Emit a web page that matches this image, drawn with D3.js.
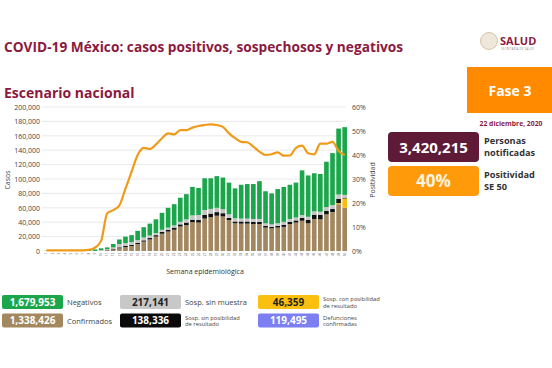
<!DOCTYPE html>
<html>
<head>
<meta charset="utf-8">
<script src="https://cdn.jsdelivr.net/npm/d3@7"></script>
<style>
  body { margin: 0; background: #fff; }
  text { font-family: "Open Sans", sans-serif; }
</style>
</head>
<body>
<svg id="chart" width="552" height="368"></svg>
<script>
// semanas epidemiológicas 1..50 (valores en miles de casos)
const semanas = d3.range(1, 51);
const confirmados = [0,0,0,0,0,0,0,0,0.01, 0.3,1.2,1.5,3.7,5.5,7,9.7,13,16,20,24,27,29.5,34,36,40,39.5,
  45,47,49,48,43,38.5,38,38,37.5,37.5,32.5,31.5,32.5,33.5,37.5,39.5,42,38.5,44.5,44,51,53.5,65,60];
const sospConPosibilidad = [0,0,0,0,0,0,0,0,0, 0,0,0,0,0,0,0,0,0,0,0,0,0,0,0,0,0,
  0,0,0,0,0,0,0,0,0,0,0,0,0,0,0,0,0,0,0,0,0,0.3,1.5,13];
const sospSinPosibilidad = [0,0,0,0,0,0,0,0,0, 0.3,0.5,1,1.4,1.5,1.5,1.5,1.8,2,2,2.5,2.5,3,3,3.5,3.5,3.5,
  5,5,5,4.5,3,2.5,3,3,3,3,2.5,2,2.5,3,3,3,4,5,6,6,5,4.5,6,1];
const sospSinMuestra = [0,0,0,0,0,0,0,0,0.1, 0.8,1,2.5,4.6,4,4,4,4,3.5,3,3,3,3,3.5,4.5,6,7,
  7,6.5,6,5.5,5,4.5,4,4,4,4,3.5,3.5,3.5,4,4,4,4,4,4.5,4.5,5,5.5,6,4];
const negativos = [0.3,0.8,1.2,1.3,1.3,1.3,1.2,1.4,2.1, 2.3,2.3,4.7,6.3,9,9.5,12.8,14.2,16.5,19,23.5,27.5,29.5,33.5,35,39.5,37.6,
  44,42.5,44,44,44,41.5,47,48,48.5,52.5,44.5,43,47.5,48.5,47.5,48.5,62,57.5,53,52.5,63,72.2,91.5,94];
const positividad = [0.3,0.3,0.3,0.3,0.3,0.3,0.3,0.5,1.4, 4.2,15.7,17,19,26,33,40,43,42.5,44.4,47,49,48.6,50.4,50.4,51.4,52.1,
  52.5,52.8,52.5,51.7,49,47,45.5,45.3,43.5,41.4,40,40.3,41.1,39.7,39.8,43,43.9,40.7,40.3,44.7,44.7,45.5,41.7,40];

const casosTicks = d3.range(0, 201, 20);
const positTicks = d3.range(0, 61, 10);

const series = [
  { key: "confirmados", values: confirmados, color: "#a3875e" },
  { key: "sospCon", values: sospConPosibilidad, color: "#f7bd16" },
  { key: "sospSin", values: sospSinPosibilidad, color: "#111111" },
  { key: "sinMuestra", values: sospSinMuestra, color: "#c6c6c6" },
  { key: "negativos", values: negativos, color: "#1ba64b" }
];

const leyenda = [
  { valor: "1,679,953", texto: ["Negativos"], color: "#1ba64b", fg: "#fff", col: 0, row: 0 },
  { valor: "1,338,426", texto: ["Confirmados"], color: "#a3875e", fg: "#fff", col: 0, row: 1 },
  { valor: "217,141", texto: ["Sosp. sin muestra"], color: "#c8c8c8", fg: "#222", col: 1, row: 0 },
  { valor: "138,336", texto: ["Sosp. sin posibilidad", "de resultado"], color: "#0a0a0a", fg: "#fff", col: 1, row: 1 },
  { valor: "46,359", texto: ["Sosp. con posibilidad", "de resultado"], color: "#fbbf10", fg: "#222", col: 2, row: 0 },
  { valor: "119,495", texto: ["Defunciones", "confirmadas"], color: "#7b7ff2", fg: "#fff", col: 2, row: 1 }
];

const svg = d3.select("#chart");
const maroon = "#8c1a3e";

// encabezado
svg.append("text").attr("x", 4).attr("y", 52)
  .attr("font-size", 13.7).attr("font-weight", 700).attr("fill", maroon)
  .text("COVID-19 México: casos positivos, sospechosos y negativos");

svg.append("text").attr("x", 4).attr("y", 98)
  .attr("font-size", 14).attr("font-weight", 700).attr("fill", maroon)
  .text("Escenario nacional");

// logo
svg.append("circle").attr("cx", 489).attr("cy", 41).attr("r", 8.5)
  .attr("fill", "#efe7da").attr("stroke", "#c9b99a").attr("stroke-width", 0.8);
svg.append("text").attr("x", 500).attr("y", 45)
  .attr("font-family", "DejaVu Serif").attr("font-size", 11).attr("font-weight", 700)
  .attr("fill", maroon).text("SALUD");
svg.append("text").attr("x", 501).attr("y", 50)
  .attr("font-size", 2.6).attr("fill", "#888").attr("letter-spacing", 0.3)
  .text("SECRETARÍA DE SALUD");

// Fase 3
svg.append("rect").attr("x", 467).attr("y", 67).attr("width", 85).attr("height", 46).attr("fill", "#ff8a00");
svg.append("text").attr("x", 510).attr("y", 96).attr("text-anchor", "middle")
  .attr("font-size", 14).attr("font-weight", 700).attr("fill", "#fff").text("Fase 3");
svg.append("text").attr("x", 511).attr("y", 126).attr("text-anchor", "middle")
  .attr("font-size", 6.8).attr("font-weight", 700).attr("fill", maroon).text("22 diciembre, 2020");

// cajas de resumen
const cajas = [
  { y: 132, valor: "3,420,215", color: "#5e1a37", fg: "#fff", lineas: ["Personas", "notificadas"] },
  { y: 166, valor: "40%", color: "#ff9a0a", fg: "#fff4e0", lineas: ["Positividad", "SE 50"] }
];
cajas.forEach(c => {
  svg.append("rect").attr("x", 388).attr("y", c.y).attr("width", 91).attr("height", 30)
    .attr("rx", 4).attr("fill", c.color);
  svg.append("text").attr("x", 433.5).attr("y", c.y + 20.5).attr("text-anchor", "middle")
    .attr("font-size", c.valor.length > 4 ? 15 : 17).attr("font-weight", 700).attr("fill", c.fg)
    .text(c.valor);
  c.lineas.forEach((l, i) => {
    svg.append("text").attr("x", 484).attr("y", c.y + 11.5 + i * 12)
      .attr("font-size", 9.2).attr("font-weight", 700).attr("fill", "#333").text(l);
  });
});

// gráfica
const x = d3.scaleBand().domain(semanas).range([44, 347]).paddingInner(0.24);
const y = d3.scaleLinear().domain([0, 200]).range([251, 107]);
const y2 = d3.scaleLinear().domain([0, 60]).range([251, 107]);

svg.append("g").selectAll("line").data(casosTicks.slice(1)).join("line")
  .attr("x1", 42).attr("x2", 346).attr("y1", d => y(d)).attr("y2", d => y(d))
  .attr("stroke", "#e3e3e3").attr("stroke-width", 0.8);

const yAxis = svg.append("g").attr("transform", "translate(40,0)")
  .call(d3.axisLeft(y).tickValues(casosTicks).tickSize(0).tickPadding(0)
    .tickFormat(d => d3.format(",")(d * 1000)));
yAxis.select(".domain").remove();
yAxis.selectAll("text").attr("font-size", 7).attr("fill", "#444");

const y2Axis = svg.append("g").attr("transform", "translate(352,0)")
  .call(d3.axisRight(y2).tickValues(positTicks).tickSize(0).tickPadding(0).tickFormat(d => d + "%"));
y2Axis.select(".domain").remove();
y2Axis.selectAll("text").attr("font-size", 7).attr("fill", "#444");

const xAxis = svg.append("g").attr("transform", "translate(0,252)")
  .call(d3.axisBottom(x).tickSize(0).tickPadding(0));
xAxis.select(".domain").remove();
xAxis.selectAll("text").attr("font-size", 3.2).attr("fill", "#555")
  .attr("transform", "rotate(-90)").attr("text-anchor", "end").attr("dx", "-0.2em").attr("dy", "0.35em")
  .attr("x", 0).attr("y", 0);

svg.append("text").attr("transform", "translate(10,180) rotate(-90)").attr("text-anchor", "middle")
  .attr("font-size", 7).attr("fill", "#444").text("Casos");
svg.append("text").attr("transform", "translate(375,180) rotate(-90)").attr("text-anchor", "middle")
  .attr("font-size", 7).attr("fill", "#444").text("Positividad");
svg.append("text").attr("x", 205).attr("y", 274).attr("text-anchor", "middle")
  .attr("font-size", 7).attr("fill", "#333").text("Semana epidemiológica");

// barras apiladas
const filas = semanas.map((s, i) => {
  const r = { semana: s };
  series.forEach(se => r[se.key] = se.values[i]);
  return r;
});
const stack = d3.stack().keys(series.map(s => s.key))(filas);
svg.append("g").selectAll("g").data(stack).join("g")
  .attr("fill", (d, i) => series[i].color)
  .selectAll("rect").data(d => d).join("rect")
  .attr("x", d => x(d.data.semana))
  .attr("width", x.bandwidth())
  .attr("y", d => y(d[1]))
  .attr("height", d => y(d[0]) - y(d[1]));

// línea de positividad
const linea = d3.line()
  .x((d, i) => x(semanas[i]) + x.bandwidth() / 2)
  .y(d => y2(d))
  .curve(d3.curveMonotoneX);
svg.append("path").datum(positividad)
  .attr("fill", "none").attr("stroke", "#f09a1a").attr("stroke-width", 2.2)
  .attr("stroke-linejoin", "round").attr("d", linea);

// leyenda inferior
const colX = [2, 120, 258];
const rowY = [295, 313.5];
leyenda.forEach(l => {
  const gx = colX[l.col], gy = rowY[l.row];
  svg.append("rect").attr("x", gx).attr("y", gy).attr("width", 61).attr("height", 14)
    .attr("rx", 2).attr("fill", l.color);
  svg.append("text").attr("x", gx + 30.5).attr("y", gy + 10.8).attr("text-anchor", "middle")
    .attr("font-size", 10).attr("font-weight", 700).attr("fill", l.fg).text(l.valor);
  if (l.texto.length === 1) {
    svg.append("text").attr("x", gx + 65).attr("y", gy + 10)
      .attr("font-size", 7.5).attr("fill", "#444").text(l.texto[0]);
  } else {
    l.texto.forEach((t, i) => {
      svg.append("text").attr("x", gx + 65).attr("y", gy + 6 + i * 6.5)
        .attr("font-size", 5.8).attr("fill", "#444").text(t);
    });
  }
});
</script>
</body>
</html>
